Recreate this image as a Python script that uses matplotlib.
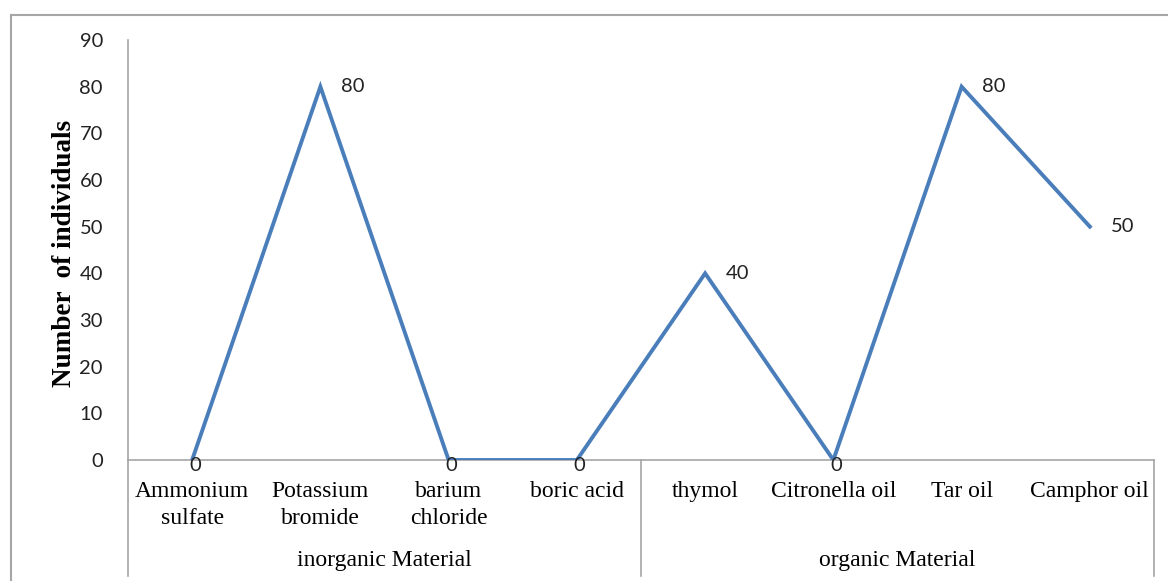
import matplotlib
matplotlib.use("Agg")
import matplotlib.pyplot as plt
from matplotlib.lines import Line2D

categories = ["Ammonium\nsulfate", "Potassium\nbromide", "barium\nchloride", "boric acid",
              "thymol", "Citronella oil", "Tar oil", "Camphor oil"]
values = [0, 80, 0, 0, 40, 0, 80, 50]
groups = ["inorganic Material", "organic Material"]
group_sizes = [4, 4]

W, H = 1168, 581
fig = plt.figure(figsize=(W / 100, H / 100), dpi=100)
ax = fig.add_axes([128 / W, 1 - 460 / H, (1154 - 128) / W, 420 / H])

x = list(range(len(values)))
ax.plot(x, values, color="#4A7EBB", lw=2.8, solid_joinstyle="miter", zorder=3)

# value labels: non-zero to the right of the point, zeros centred just below it
for xi, v in zip(x, values):
    if v > 0:
        ax.annotate(str(v), (xi, v), xytext=(15, 0), textcoords="offset points",
                    va="center", ha="left", fontsize=14.5, family="Lato", color="#222222")
    else:
        ax.annotate(str(v), (xi, v), xytext=(2, -4), textcoords="offset points",
                    va="center", ha="center", fontsize=14.5, family="Lato", color="#222222")

ax.set_xlim(-0.5, len(values) - 0.5)
ax.set_ylim(0, 90)
ax.set_yticks(range(0, 91, 10))
ax.tick_params(axis="y", length=0, pad=18, labelsize=14.5, labelfontfamily="Lato",
               labelcolor="#222222")
ax.set_xticks([])
for s in ["top", "right"]:
    ax.spines[s].set_visible(False)
for s in ["left", "bottom"]:
    ax.spines[s].set_color("#a6a6a6")
    ax.spines[s].set_linewidth(1.2)

fig.text(65 / W, 1 - 253 / H, "Number  of individuals", rotation=90, ha="center",
         va="center", family="Liberation Serif", fontweight="bold", fontsize=19.5)


def px_to_axes(py):
    # pixel row in the figure -> axes fraction (0 at the category axis)
    return (460 - py) / 420


trans = ax.get_xaxis_transform()

# category labels, one line at a time
for xi, name in zip(x, categories):
    for i, line in enumerate(name.split("\n")):
        ax.text(xi, px_to_axes(497 + 27 * i), line, ha="center", va="baseline",
                fontsize=17, family="Liberation Serif", transform=trans)

# grouped axis underneath
start = 0
edges = [-0.5]
for g, n in zip(groups, group_sizes):
    mid = start + (n - 1) / 2
    ax.text(mid, px_to_axes(566), g, ha="center", va="baseline", fontsize=17,
            family="Liberation Serif", transform=trans)
    start += n
    edges.append(start - 0.5)
for e in edges:
    ax.add_line(Line2D([e, e], [0, px_to_axes(576)], transform=trans, color="#a6a6a6",
                       lw=1.2, clip_on=False))

# chart border
fig.add_artist(Line2D([11 / W, 11 / W], [0, 1 - 15 / H], color="#a6a6a6", lw=1.5))
fig.add_artist(Line2D([11 / W, 1], [1 - 15 / H, 1 - 15 / H], color="#a6a6a6", lw=1.5))

fig.savefig("out.png", dpi=100)
